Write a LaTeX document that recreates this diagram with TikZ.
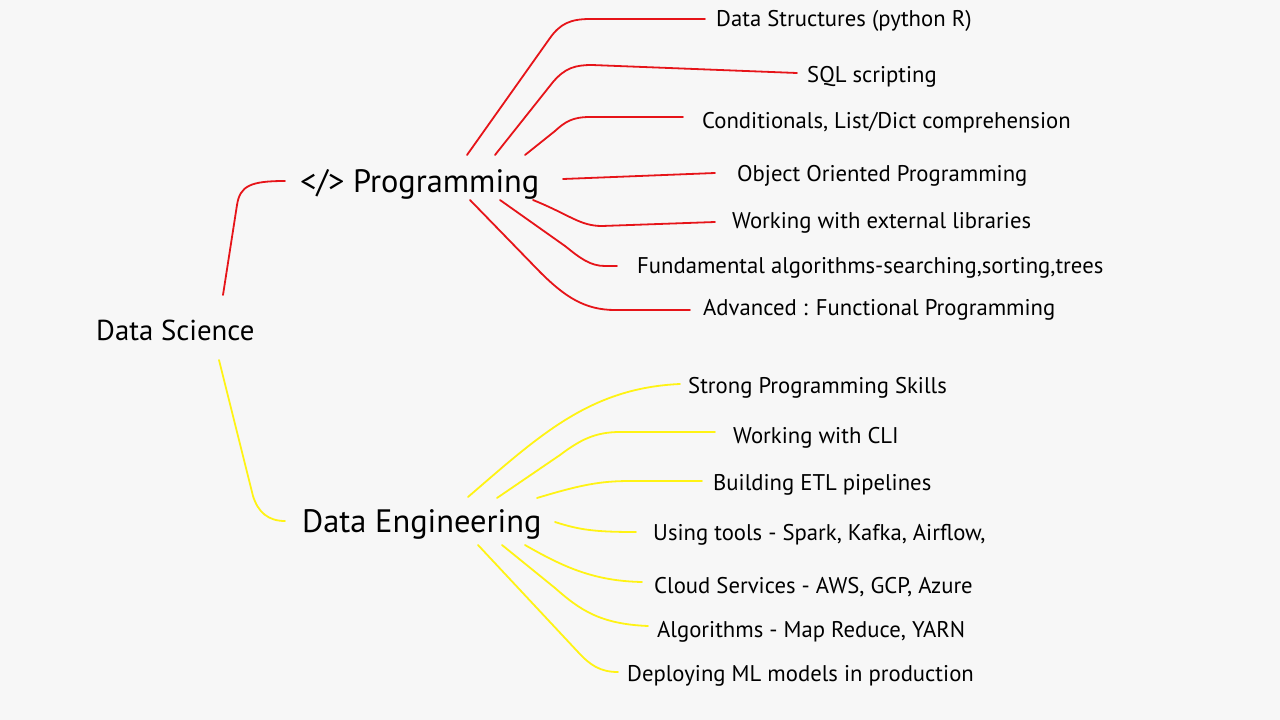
\documentclass[tikz,border=0pt]{standalone}
\usepackage{fontspec}
\setmainfont{PT Sans}
\usetikzlibrary{calc}
\definecolor{bg}{RGB}{247,247,247}
\definecolor{redline}{RGB}{230,20,25}
\definecolor{yelline}{RGB}{255,243,20}
\tikzset{
  leaf/.style={anchor=base west, inner sep=0pt, font=\fontsize{22.7}{27}\selectfont},
  topic/.style={anchor=base west, inner sep=0pt, font=\fontsize{32.4}{40}\selectfont},
  rootnode/.style={anchor=base west, inner sep=0pt, font=\fontsize{28.8}{34}\selectfont},
  rl/.style={draw=redline, line width=1.8pt, line cap=round, line join=round},
  yl/.style={draw=yelline, line width=1.8pt, line cap=round, line join=round},
}
\begin{document}
\begin{tikzpicture}[x=1pt, y=-1pt]
\fill[bg] (0,0) rectangle (1280,720);
\useasboundingbox (0,0) rectangle (1280,720);

\node[rootnode] (sci) at (96,340) {Data Science};
\node[topic] (prog) at (300,192) {</> Programming};
\node[topic] (de) at (302,532) {Data Engineering};

% Programming leaves
\node[leaf] (p1) at (716,27) {Data Structures (python R)};
\node[leaf] (p2) at (807,82) {SQL scripting};
\node[leaf] (p3) at (702,128) {Conditionals, List/Dict comprehension};
\node[leaf] (p4) at (737,181) {Object Oriented Programming};
\node[leaf] (p5) at (732,228) {Working with external libraries};
\node[leaf] (p6) at (637,273) {Fundamental algorithms-searching,sorting,trees};
\node[leaf] (p7) at (703,315) {Advanced : Functional Programming};

% Data Engineering leaves
\node[leaf] (d1) at (688,393) {Strong Programming Skills};
\node[leaf] (d2) at (733,443) {Working with CLI};
\node[leaf] (d3) at (713,490) {Building ETL pipelines};
\node[leaf] (d4) at (653,540) {Using tools - Spark, Kafka, Airflow,};
\node[leaf] (d5) at (654,593) {Cloud Services - AWS, GCP, Azure};
\node[leaf] (d6) at (657,637) {Algorithms - Map Reduce, YARN};
\node[leaf] (d7) at (627,681) {Deploying ML models in production};

% root connectors
\draw[rl] ($(sci.base west)+(127,-45)$) -- (237,205) .. controls (240,186) and (250,181) .. ($(prog.base west)+(-15,-11)$);
\draw[yl] ($(sci.base west)+(123,20)$) -- (253,496) .. controls (258,512) and (268,521) .. ($(de.base west)+(-17,-11)$);

% programming connectors
\draw[rl] ($(prog.base west)+(167,-37)$) -- (550,38) .. controls (560,24) and (570,19) .. (590,19) -- ($(p1.base west)+(-11,-8)$);
\draw[rl] ($(prog.base west)+(195,-37)$) -- (553,82) .. controls (565,68) and (575,65) .. (592,65) -- ($(p2.base west)+(-10,-9)$);
\draw[rl] ($(prog.base west)+(225,-37)$) -- (555,131) .. controls (565,122) and (572,117) .. (590,117) -- ($(p3.base west)+(-19,-11)$);
\draw[rl] ($(prog.base west)+(263,-13)$) -- ($(p4.base west)+(-22,-8)$);
\draw[rl] ($(prog.base west)+(233,8)$) .. controls (570,215) and (580,226) .. (602,226) -- ($(p5.base west)+(-17,-6)$);
\draw[rl] ($(prog.base west)+(200,8)$) -- (565,246) .. controls (580,258) and (590,266) .. (605,266) -- ($(p6.base west)+(-20,-7)$);
\draw[rl] ($(prog.base west)+(170,8)$) -- (540,272) .. controls (565,297) and (585,310) .. (615,310) -- ($(p7.base west)+(-13,-5)$);

% data engineering connectors
\draw[yl] ($(de.base west)+(166,-35)$) .. controls (540,435) and (590,388) .. ($(d1.base west)+(-8,-9)$);
\draw[yl] ($(de.base west)+(195,-34)$) -- (560,455) .. controls (580,440) and (595,432) .. (620,432) -- ($(d2.base west)+(-18,-11)$);
\draw[yl] ($(de.base west)+(235,-34)$) .. controls (580,485) and (600,481) .. (630,481) -- ($(d3.base west)+(-11,-9)$);
\draw[yl] ($(de.base west)+(253,-10)$) .. controls (580,530) and (595,532) .. ($(d4.base west)+(-17,-8)$);
\draw[yl] ($(de.base west)+(223,13)$) .. controls (565,568) and (595,581) .. ($(d5.base west)+(-12,-11)$);
\draw[yl] ($(de.base west)+(200,13)$) -- (555,588) .. controls (580,610) and (600,624) .. ($(d6.base west)+(-9,-11)$);
\draw[yl] ($(de.base west)+(176,13)$) -- (578,652) .. controls (590,665) and (600,672) .. ($(d7.base west)+(-9,-9)$);
\end{tikzpicture}
\end{document}
